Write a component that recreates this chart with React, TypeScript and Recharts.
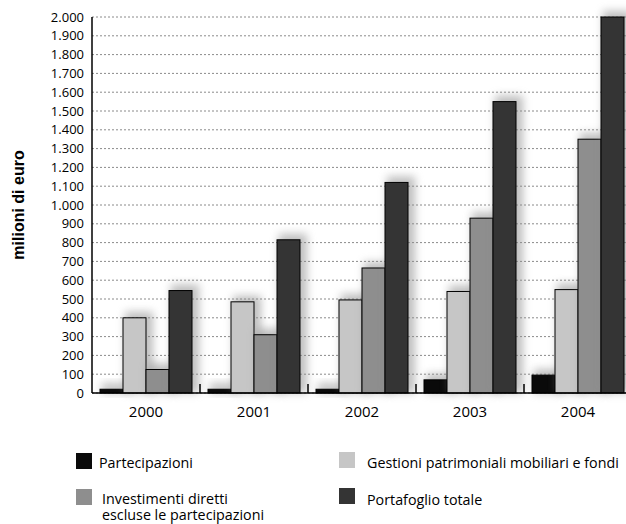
import { BarChart, Bar, XAxis, YAxis, CartesianGrid } from "recharts";

const years = ["2000", "2001", "2002", "2003", "2004"];
const partecipazioni = [20, 20, 20, 70, 95];
const gestioni = [400, 485, 495, 540, 550];
const investimenti = [125, 310, 665, 930, 1350];
const portafoglio = [545, 815, 1120, 1550, 2000];
const yTicks = [
  0, 100, 200, 300, 400, 500, 600, 700, 800, 900, 1000, 1100, 1200, 1300, 1400,
  1500, 1600, 1700, 1800, 1900, 2000,
];

const series = [
  { key: "partecipazioni", name: ["Partecipazioni"], color: "#0a0a0a" },
  { key: "gestioni", name: ["Gestioni patrimoniali mobiliari e fondi"], color: "#c6c6c6" },
  { key: "investimenti", name: ["Investimenti diretti", "escluse le partecipazioni"], color: "#8e8e8e" },
  { key: "portafoglio", name: ["Portafoglio totale"], color: "#343434" },
];

const data = years.map((year, i) => ({
  year,
  partecipazioni: partecipazioni[i],
  gestioni: gestioni[i],
  investimenti: investimenti[i],
  portafoglio: portafoglio[i],
}));

// legend layout (2x2, row-major like the series list)
const legendPos = [
  { left: 76, top: 453, textLeft: 99, textTop: 455 },
  { left: 339, top: 452, textLeft: 367, textTop: 455 },
  { left: 76, top: 489, textLeft: 102, textTop: 491 },
  { left: 339, top: 488, textLeft: 367, textTop: 492 },
];

const FONT = "'Open Sans', 'Noto Sans', sans-serif";

const formatIt = (v: number) => String(v).replace(/\B(?=(\d{3})+(?!\d))/g, ".");

const YearTick = (props: any) => {
  const { x, y, payload } = props;
  const half = payload && typeof payload.offset === "number" && payload.offset > 0 ? payload.offset : 54;
  return (
    <g>
      <line x1={x + half} x2={x + half} y1={y} y2={y - 9} stroke="#000" strokeWidth={1.5} />
      <text x={x} y={y + 24} textAnchor="middle" fontSize={15} fill="#000" fontFamily={FONT}>
        {payload.value}
      </text>
    </g>
  );
};

const HaloBar = (props: any) => {
  const { x, y, width, height, fill } = props;
  if (!height || height <= 0) return null;
  return (
    <g>
      <defs>
        <filter id="haloBlur" x="-100%" y="-50%" width="300%" height="200%">
          <feGaussianBlur stdDeviation="4" />
        </filter>
      </defs>
      <rect
        x={x + 2}
        y={y - 6}
        width={width + 5}
        height={height + 6}
        fill="#8a8a8a"
        opacity={0.55}
        filter="url(#haloBlur)"
      />
      <rect x={x} y={y} width={width} height={height} fill={fill} stroke="#000" strokeWidth={1} />
    </g>
  );
};

export default function App() {
  return (
    <div
      style={{
        position: "absolute",
        left: 0,
        top: 0,
        width: 626,
        height: 524,
        overflow: "hidden",
        background: "#fff",
        fontFamily: FONT,
      }}
    >
      <div
        style={{
          position: "absolute",
          left: 19,
          top: 205,
          transform: "translate(-50%, -50%) rotate(-90deg)",
          whiteSpace: "nowrap",
          fontFamily: "'Liberation Sans', Arial, sans-serif",
          fontWeight: "bold",
          fontSize: 16,
          color: "#000",
        }}
      >
        milioni di euro
      </div>
      <BarChart
        width={640}
        height={433}
        data={data}
        margin={{ top: 17, right: 8, left: 0, bottom: 0 }}
        barCategoryGap={8}
        barGap={0}
      >
        <CartesianGrid vertical={false} stroke="#8a8a8a" strokeDasharray="2 2" />
        <XAxis
          dataKey="year"
          height={40}
          tickSize={0}
          tickMargin={0}
          tickLine={false}
          axisLine={{ stroke: "#000", strokeWidth: 1.5 }}
          tick={<YearTick />}
          interval={0}
        />
        <YAxis
          width={92}
          domain={[0, 2000]}
          ticks={yTicks}
          interval={0}
          tickLine={false}
          axisLine={{ stroke: "#000", strokeWidth: 1.5 }}
          tickFormatter={formatIt}
          tick={{ fontSize: 13, fill: "#000", fontFamily: FONT }}
        />
        {series.map((s) => (
          <Bar
            key={s.key}
            dataKey={s.key}
            name={s.name.join(" ")}
            fill={s.color}
            shape={<HaloBar />}
            isAnimationActive={false}
          />
        ))}
      </BarChart>
      {series.map((s, i) => (
        <div key={s.key}>
          <div
            style={{
              position: "absolute",
              left: legendPos[i].left,
              top: legendPos[i].top,
              width: 16,
              height: 16,
              background: s.color,
            }}
          />
          <div
            style={{
              position: "absolute",
              left: legendPos[i].textLeft,
              top: legendPos[i].textTop,
              fontSize: 14.3,
              lineHeight: "16px",
              color: "#000",
              whiteSpace: "nowrap",
            }}
          >
            {s.name.map((line) => (
              <div key={line}>{line}</div>
            ))}
          </div>
        </div>
      ))}
    </div>
  );
}
